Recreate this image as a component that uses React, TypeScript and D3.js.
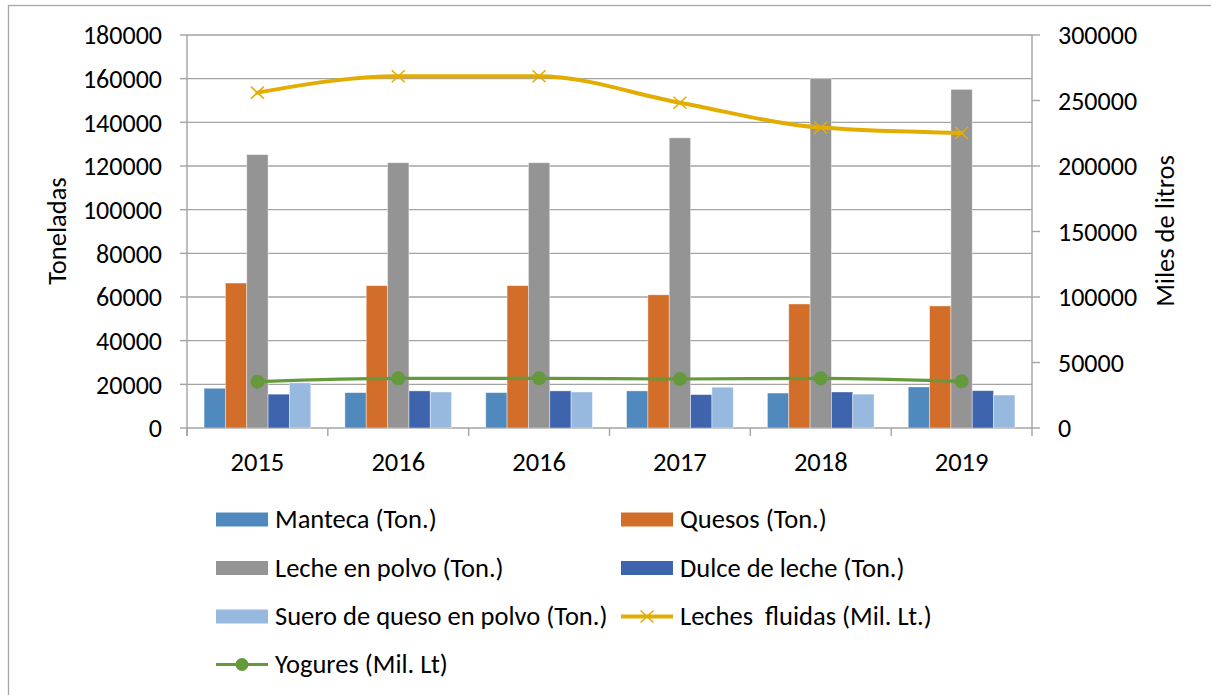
import React from 'react';
import * as d3 from 'd3';

const categories = ['2015', '2016', '2016', '2017', '2018', '2019'];
const manteca = [18200, 16200, 16200, 17000, 16000, 18800];
const quesos = [66400, 65200, 65200, 61000, 56800, 55900];
const lechePolvo = [125200, 121500, 121500, 132900, 160000, 155100];
const dulce = [15500, 17000, 17000, 15300, 16500, 17100];
const suero = [20700, 16500, 16500, 18700, 15500, 15100];
const lechesFluidas = [256000, 268500, 268500, 248300, 229300, 225200];
const yogures = [35400, 37900, 37900, 37400, 37900, 35600];

const leftTicks = [0, 20000, 40000, 60000, 80000, 100000, 120000, 140000, 160000, 180000];
const rightTicks = [0, 50000, 100000, 150000, 200000, 250000, 300000];

const barSeries = [
  { name: 'Manteca (Ton.)', values: manteca, color: '#5089bd' },
  { name: 'Quesos (Ton.)', values: quesos, color: '#d26e2a' },
  { name: 'Leche en polvo (Ton.)', values: lechePolvo, color: '#949494' },
  { name: 'Dulce de leche (Ton.)', values: dulce, color: '#3d64ad' },
  { name: 'Suero de queso en polvo (Ton.)', values: suero, color: '#97b9e0' },
];
const lineSeries = [
  { name: 'Leches  fluidas (Mil. Lt.)', values: lechesFluidas, color: '#e3ac00', marker: 'x', width: 4 },
  { name: 'Yogures (Mil. Lt)', values: yogures, color: '#64993c', marker: 'o', width: 3.2 },
];

const FONT = 'Carlito, Calibri, Lato, sans-serif';

export default function App() {
  const W = 1211, H = 695;
  const L = 187, R = 1032, T = 35, B = 428;
  const idx = categories.map((_, i) => i);
  const x = d3.scaleBand<number>().domain(idx).range([L, R]).padding(0);
  const xs = d3.scaleBand<number>().domain(barSeries.map((_, i) => i)).range([0, x.bandwidth()]).paddingInner(0).paddingOuter(0.8);
  const yL = d3.scaleLinear().domain([0, 180000]).range([B, T]);
  const yR = d3.scaleLinear().domain([0, 300000]).range([B, T]);
  const cx = (i: number) => (x(i) as number) + x.bandwidth() / 2;
  const lineGen = (vals: number[]) =>
    d3.line<number>().x((_, i) => cx(i)).y((v) => yR(v)).curve(d3.curveMonotoneX)(vals) || '';

  const grid = '#a3a3a3';
  const legendItems = [...barSeries.map((s) => ({ ...s, kind: 'bar' })), ...lineSeries.map((s) => ({ ...s, kind: 'line' }))];
  const legX = [216, 621];
  const legY = [519.5, 568, 616.5, 664.5];
  const SW = 52;

  const cross = (px: number, py: number, color: string, key: string) => (
    <path key={key} d={`M${px - 6.5},${py - 6}L${px + 6.5},${py + 6}M${px - 6.5},${py + 6}L${px + 6.5},${py - 6}`} stroke={color} strokeWidth={1.6} fill="none" />
  );

  return (
    <svg width={W} height={H} style={{ position: 'absolute', left: 0, top: 0, background: '#fff' }} fontFamily={FONT}>
      <rect x={8.5} y={5.5} width={1210} height={700} fill="#fff" stroke="#a6a6a6" strokeWidth={1.3} />
      {leftTicks.map((t) => (
        <line key={'g' + t} x1={L} x2={R} y1={yL(t)} y2={yL(t)} stroke={grid} strokeWidth={1.4} />
      ))}
      <line x1={L} x2={L} y1={T} y2={B + 8} stroke={grid} strokeWidth={1.4} />
      <line x1={R} x2={R} y1={T} y2={B + 8} stroke={grid} strokeWidth={1.4} />
      {leftTicks.map((t) => (
        <line key={'lt' + t} x1={L - 7} x2={L} y1={yL(t)} y2={yL(t)} stroke={grid} strokeWidth={1.4} />
      ))}
      {rightTicks.map((t) => (
        <line key={'rt' + t} x1={R} x2={R + 8} y1={yR(t)} y2={yR(t)} stroke={grid} strokeWidth={1.4} />
      ))}
      {idx.map((i) => (
        <line key={'xt' + i} x1={x(i)} x2={x(i)} y1={B} y2={B + 8} stroke={grid} strokeWidth={1.4} />
      ))}
      {barSeries.map((s, si) =>
        s.values.map((v, i) => (
          <rect key={`b${si}-${i}`} x={(x(i) as number) + (xs(si) as number)} y={yL(v)} width={xs.bandwidth()} height={B - yL(v)} fill={s.color} stroke="#ffffff" strokeOpacity={0.5} strokeWidth={0.8} />
        ))
      )}
      {lineSeries.map((s, si) => (
        <g key={'l' + si}>
          <path d={lineGen(s.values)} fill="none" stroke={s.color} strokeWidth={s.width} strokeLinejoin="round" strokeLinecap="round" />
          {s.values.map((v, i) =>
            s.marker === 'x' ? cross(cx(i), yR(v), s.color, `m${si}-${i}`) : <circle key={`m${si}-${i}`} cx={cx(i)} cy={yR(v)} r={7} fill={s.color} />
          )}
        </g>
      ))}
      {leftTicks.map((t) => (
        <text key={'ll' + t} x={162} y={yL(t)} dy="0.36em" textAnchor="end" fontSize={26} fill="#000">{t}</text>
      ))}
      {rightTicks.map((t) => (
        <text key={'rl' + t} x={1058} y={yR(t)} dy="0.36em" textAnchor="start" fontSize={26} fill="#000">{t}</text>
      ))}
      {categories.map((c, i) => (
        <text key={'xl' + i} x={cx(i)} y={471} textAnchor="middle" fontSize={26.5} fill="#000">{c}</text>
      ))}
      <text transform="translate(66,231) rotate(-90)" textAnchor="middle" fontSize={26.5} fill="#000">Toneladas</text>
      <text transform="translate(1174,231) rotate(-90)" textAnchor="middle" fontSize={26.5} fill="#000">Miles de litros</text>
      {legendItems.map((it, k) => {
        const col = k % 2, row = Math.floor(k / 2);
        const lx = legX[col], ly = legY[row];
        return (
          <g key={'lg' + k}>
            {it.kind === 'bar' ? (
              <rect x={lx} y={ly - 7} width={SW} height={14} fill={it.color} />
            ) : (
              <g>
                <line x1={lx} x2={lx + SW} y1={ly} y2={ly} stroke={it.color} strokeWidth={(it as any).width} />
                {(it as any).marker === 'x' ? cross(lx + SW / 2, ly, it.color, 'lm' + k) : <circle cx={lx + SW / 2} cy={ly} r={6.5} fill={it.color} />}
              </g>
            )}
            <text x={lx + 59} y={ly + 8.5} fontSize={26.5} fill="#000" style={{ whiteSpace: 'pre' }}>{it.name}</text>
          </g>
        );
      })}
    </svg>
  );
}
